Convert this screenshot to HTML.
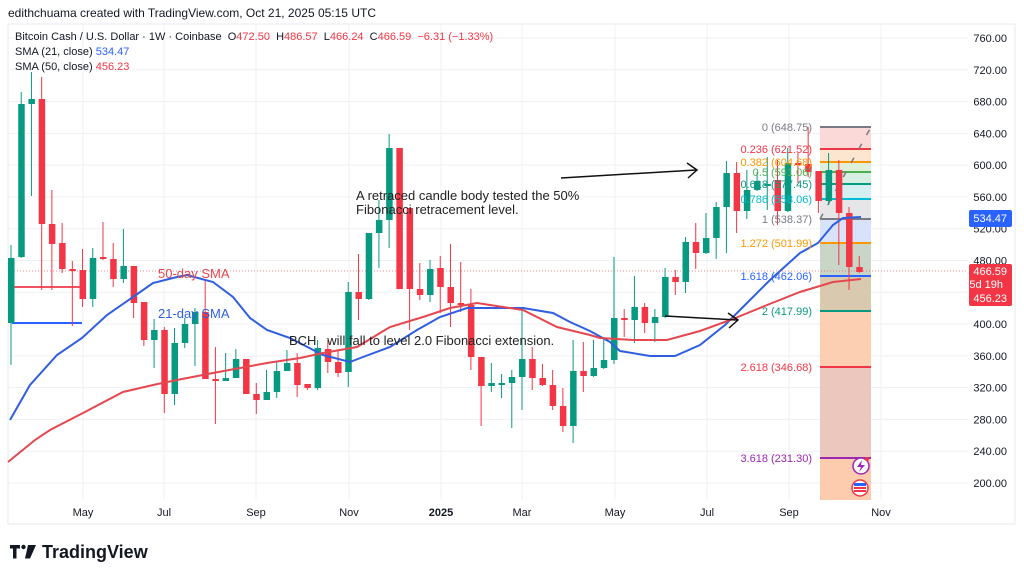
<!DOCTYPE html>
<html><head><meta charset="utf-8">
<style>
html,body{margin:0;padding:0;background:#fff;}
body{width:1024px;height:577px;overflow:hidden;font-family:"Liberation Sans",sans-serif;}
svg text{font-family:"Liberation Sans",sans-serif;}
</style></head>
<body>
<svg id="s" width="1024" height="577" xmlns="http://www.w3.org/2000/svg">
<rect x="0" y="0" width="1024" height="577" fill="#fff"/>
<rect x="8" y="24" width="1007" height="500" fill="#fff" stroke="#e6e8ee" stroke-width="1"/>
<g id="grid" stroke="#f0f1f4" stroke-width="1"></g>
<g id="fib"></g>
<line x1="8" y1="271" x2="968" y2="271" stroke="#f23645" stroke-width="1" stroke-dasharray="1,2" opacity="0.6"/>
<line x1="12" y1="323" x2="82" y2="323" stroke="#2962ff" stroke-width="2"/>
<line x1="12" y1="287" x2="82" y2="287" stroke="#f23645" stroke-width="2" opacity="0.85"/>
<g id="candles"></g>
<polyline fill="none" stroke="#2f5fe0" stroke-width="2" points="10,420 30,385 57,355 82,338 107,315 133,297 153,283 177,277 187,275 213,282 233,297 250,318 267,330 290,338 323,355 350,362 363,357 390,347 417,330 440,317 467,308 490,308 523,308 553,313 570,322 590,331 610,342 620,351 650,356 675,356 700,345 725,325 745,305 770,280 800,253 818,243 833,225 843,218 861,217"/>
<polyline fill="none" stroke="#e5474f" stroke-width="2" points="8,462 35,440 50,430 83,413 123,392 153,385 177,380 213,373 267,363 300,358 323,353 357,347 390,327 423,317 450,308 477,303 490,305 523,310 557,327 590,335 600,338 633,340 667,340 700,331 733,319 767,305 800,292 833,282 861,279"/>
<g stroke="#111" stroke-width="1.5" fill="none">
<line x1="561" y1="178" x2="696" y2="170"/>
<polyline points="687,163 697,170 688,178"/>
<line x1="665" y1="316" x2="737" y2="320"/>
<polyline points="728,313 738,320 729,328"/>
</g>
<g font-size="13" fill="#222">
<text x="356" y="200">A retraced candle body tested the 50%</text>
<text x="356" y="214">Fibonacci retracement level.</text>
<text x="289" y="345" xml:space="preserve">BCH   will fall to level 2.0 Fibonacci extension.</text>
</g>
<text x="158" y="278" font-size="13" fill="#e5474f">50-day SMA</text>
<text x="158" y="318" font-size="13" fill="#2f5fe0">21-day SMA</text>
<g id="fiblab" font-size="11"></g>
<circle cx="861" cy="466" r="8" fill="#fff" stroke="#9c27b0" stroke-width="1.5"/>
<path d="M862,460 L857,467 L861,467 L859,472 L865,465 L861,465 Z" fill="#9c27b0"/>
<circle cx="867" cy="459" r="2" fill="#f23645"/>
<circle cx="860" cy="488" r="8" fill="#fff" stroke="#f23645" stroke-width="1.5"/>
<rect x="854" y="483" width="12" height="3" fill="#2962ff"/>
<rect x="854" y="487" width="12" height="2" fill="#f23645"/>
<rect x="854" y="490" width="12" height="2" fill="#f23645"/>
<g id="axis" font-size="11" fill="#131722" text-anchor="end"></g>
<rect x="969" y="210" width="43" height="17" rx="2" fill="#2962ff"/>
<text x="1007" y="222" font-size="11" fill="#fff" text-anchor="end">534.47</text>
<rect x="969" y="264" width="43" height="42" rx="2" fill="#f23645"/>
<g font-size="11" fill="#fff" text-anchor="end">
<text x="1007" y="275">466.59</text>
<text x="1003" y="288">5d 19h</text>
<text x="1007" y="302">456.23</text>
</g>
<g font-size="11" fill="#131722" text-anchor="middle">
<text x="83" y="516">May</text>
<text x="164" y="516">Jul</text>
<text x="256" y="516">Sep</text>
<text x="349" y="516">Nov</text>
<text x="441" y="516" font-weight="bold">2025</text>
<text x="522" y="516">Mar</text>
<text x="615" y="516">May</text>
<text x="707" y="516">Jul</text>
<text x="789" y="516">Sep</text>
<text x="881" y="516">Nov</text>
</g>
<text x="8" y="17" font-size="12" fill="#131722">edithchuama created with TradingView.com, Oct 21, 2025 05:15 UTC</text>
<g font-size="11">
<text x="15" y="40" fill="#131722" xml:space="preserve">Bitcoin Cash / U.S. Dollar · 1W · Coinbase  O<tspan fill="#f23645">472.50</tspan>  H<tspan fill="#f23645">486.57</tspan>  L<tspan fill="#f23645">466.24</tspan>  C<tspan fill="#f23645">466.59  −6.31 (−1.33%)</tspan></text>
<text x="15" y="55" fill="#131722">SMA (21, close) <tspan fill="#2962ff">534.47</tspan></text>
<text x="15" y="70" fill="#131722">SMA (50, close) <tspan fill="#f23645">456.23</tspan></text>
</g>
<g fill="#131722">
<path d="M10,545 h10 v3.5 h-3.5 v10 h-3.5 v-10 h-3 z"/>
<circle cx="23.5" cy="547" r="2.2"/>
<path d="M28,545 h8 l-6,13.5 h-5 z"/>
<text x="42" y="558" font-size="18" font-weight="bold">TradingView</text>
</g>
</svg>
<script>
(function(){
var NS="http://www.w3.org/2000/svg";
function el(t,a,p){var e=document.createElementNS(NS,t);for(var k in a)e.setAttribute(k,a[k]);p.appendChild(e);return e;}
var g=document.getElementById('grid'),ax=document.getElementById('axis');
for(var k=0;k<15;k++){var p=760-40*k;var y=38+(760-p)*0.7946;
 el('line',{x1:8,x2:968,y1:y,y2:y},g);
 var t=el('text',{x:1007,y:y+4},ax);t.textContent=p.toFixed(2);}
[83,164,256,349,441,522,615,707,789,881].forEach(function(x){el('line',{x1:x,x2:x,y1:24,y2:500},g);});
var fg=document.getElementById('fib'),fl=document.getElementById('fiblab');
var lv=[[127,'#787b86','0 (648.75)','#fbd9d9'],[149,'#f23645','0.236 (621.52)','#fde6cf'],[162,'#ff9800','0.382 (604.68)','#dff0da'],[172,'#4caf50','0.5 (591.06)','#d6efe2'],[184,'#089981','0.618 (577.45)','#d4eff0'],[199,'#00bcd4','0.786 (558.06)','#e6e6e8'],[219,'#787b86','1 (538.37)','#d8e3fa'],[243,'#ff9800','1.272 (501.99)','#c9d5c7'],[276,'#2962ff','1.618 (462.06)','#d9c9ae'],[311,'#089981','2 (417.99)','#fdcfb2'],[367,'#f23645','2.618 (346.68)','#ecc7bd'],[458,'#9c27b0','3.618 (231.30)','#fdcbae']];
for(var i=0;i<lv.length;i++){var y0=lv[i][0],y1=i<lv.length-1?lv[i+1][0]:500;
 el('rect',{x:820,y:y0,width:51,height:y1-y0,fill:lv[i][3]},fg);}
for(var i=0;i<lv.length;i++){var y0=lv[i][0];
 el('line',{x1:820,x2:871,y1:y0,y2:y0,stroke:lv[i][1],'stroke-width':2},fg);
 var t=el('text',{x:812,y:y0+4,fill:lv[i][1],'text-anchor':'end'},fl);t.textContent=lv[i][2];}
el('line',{x1:820,x2:871,y1:219,y2:127,stroke:'#787b86','stroke-width':1.5,'stroke-dasharray':'6,10'},fg);
var C=[[323,258,245,365],[257,104,92,258],[104,99,72,196],[99,224,77,290],[224,244,190,290],[243,269,223,273],[269,271,261,326],[270,299,249,307],[299,258,248,307],[257,259,222,260],[259,279,243,287],[279,266,229,283],[266,303,266,318],[302,340,302,346],[340,330,319,368],[330,394,327,413],[394,343,328,405],[343,324,318,348],[324,312,308,366],[312,379,280,379],[379,381,347,424],[381,378,353,381],[378,359,349,378],[359,394,359,394],[394,400,383,414],[400,392,370,400],[392,371,362,398],[371,363,350,371],[363,385,353,397],[384,388,384,390],[388,348,340,390],[349,362,340,373],[362,373,350,377],[372,292,282,387],[292,299,254,320],[299,233,233,300],[233,220,200,268],[220,148,134,248],[148,289,148,256],[208,289,208,330],[289,295,263,300],[295,269,260,302],[268,287,256,313],[287,303,244,327],[303,305,262,312],[305,357,289,370],[357,386,357,426],[386,383,363,392],[385,383,374,398],[383,377,370,428],[377,359,310,410],[359,378,347,390],[378,385,364,386],[385,406,370,410],[406,426,388,432],[426,371,340,443],[371,376,342,392],[376,368,340,377],[368,360,337,369],[360,318,257,364],[318,320,309,337],[320,307,276,343],[307,323,303,333],[323,317,309,342],[317,277,268,318],[277,282,270,295],[282,242,237,293],[242,253,223,269],[253,238,213,254],[238,207,202,259],[207,173,161,253],[173,211,162,233],[211,190,170,219],[190,181,172,191],[185,184,157,210],[180,211,160,225],[211,163,148,212],[163,164,153,183],[164,172,127,177],[171,201,171,213],[201,170,153,205],[170,213,160,265],[213,267,207,290],[267,272,256,273]];
var cg=document.getElementById('candles');
for(var i=0;i<C.length;i++){var c=C[i],x=11+10.22*i,col=c[1]<c[0]?'#089981':'#f23645';
 var yt=Math.min(c[0],c[1]),yb=Math.max(c[0],c[1]);if(yb-yt<2){yb=yt+2;}
 el('line',{x1:x,x2:x,y1:Math.min(c[2],yt),y2:Math.max(c[3],yb),stroke:col,'stroke-width':1},cg);
 el('rect',{x:x-3,y:yt,width:6.5,height:yb-yt,fill:col},cg);}
})();
</script>
</body></html>
